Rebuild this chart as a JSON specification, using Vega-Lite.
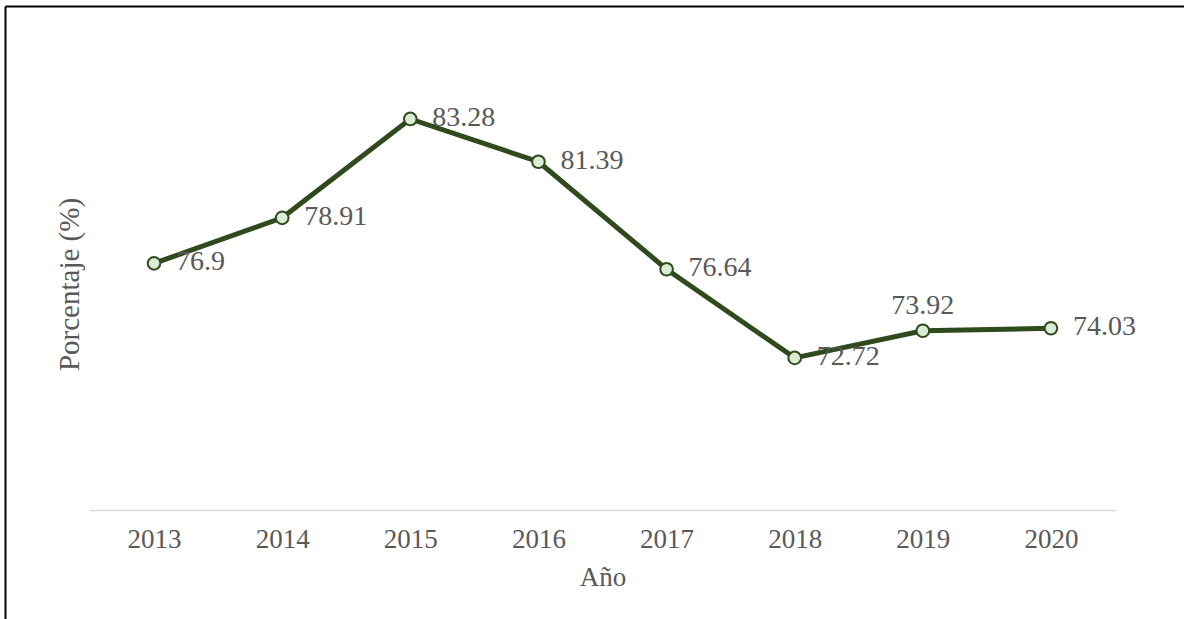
{
  "$schema": "https://vega.github.io/schema/vega-lite/v6.json",
  "autosize": {"type": "none"},
  "padding": {"left": 5, "top": 6, "right": 29, "bottom": 0},
  "width": 1150,
  "height": 613,
  "background": "white",
  "config": {
    "view": {"stroke": null},
    "font": "Liberation Serif"
  },
  "data": {
    "values": [
      {"anio": "2013", "pct": 76.9},
      {"anio": "2014", "pct": 78.91},
      {"anio": "2015", "pct": 83.28},
      {"anio": "2016", "pct": 81.39},
      {"anio": "2017", "pct": 76.64},
      {"anio": "2018", "pct": 72.72},
      {"anio": "2019", "pct": 73.92},
      {"anio": "2020", "pct": 74.03}
    ]
  },
  "resolve": {"scale": {"x": "independent"}, "axis": {"x": "independent"}},
  "layer": [
    {
      "encoding": {
        "x": {
          "field": "anio",
          "type": "ordinal",
          "scale": {"type": "point", "range": [85, 1110], "padding": 0.5},
          "axis": {
            "orient": "bottom",
            "title": "Año",
            "offset": -109,
            "labelAngle": 0,
            "labelFont": "Liberation Serif",
            "labelFontSize": 27,
            "labelColor": "#595959",
            "labelPadding": 16,
            "ticks": false,
            "domainColor": "#d9d9d9",
            "domainWidth": 1.5,
            "grid": false,
            "titleFont": "Liberation Serif",
            "titleFontSize": 27,
            "titleFontWeight": "normal",
            "titleColor": "#595959",
            "titlePadding": 12
          }
        },
        "y": {
          "field": "pct",
          "type": "quantitative",
          "scale": {"domain": [61.183, 88.271], "range": [613, 0], "zero": false, "nice": false},
          "axis": {
            "title": "Porcentaje (%)",
            "labels": false,
            "ticks": false,
            "domain": true,
            "domainColor": "#000000",
            "domainWidth": 2,
            "grid": false,
            "titleX": 79,
            "titleY": 278,
            "titleFont": "Liberation Serif",
            "titleFontSize": 29,
            "titleFontWeight": "normal",
            "titleColor": "#595959"
          }
        }
      },
      "layer": [
        {
          "mark": {"type": "line", "color": "#2f4a1c", "strokeWidth": 5}
        },
        {
          "mark": {"type": "point", "shape": "circle", "filled": true, "fill": "#dcebd3", "stroke": "#2f4a1c", "strokeWidth": 2, "size": 160, "opacity": 1}
        },
        {
          "transform": [{"filter": "datum.anio != '2019'"}],
          "mark": {"type": "text", "align": "left", "baseline": "middle", "dx": 22, "dy": -1, "fontSize": 28, "font": "Liberation Serif", "color": "#595959"},
          "encoding": {"text": {"field": "pct", "type": "quantitative"}}
        },
        {
          "transform": [{"filter": "datum.anio == '2019'"}],
          "mark": {"type": "text", "align": "center", "baseline": "alphabetic", "dy": -17, "fontSize": 28, "font": "Liberation Serif", "color": "#595959"},
          "encoding": {"text": {"field": "pct", "type": "quantitative"}}
        }
      ]
    },
    {
      "mark": {"type": "point", "opacity": 0},
      "encoding": {
        "x": {
          "field": "anio",
          "type": "ordinal",
          "scale": {"type": "point", "range": [0, 1179], "padding": 0},
          "axis": {
            "orient": "top",
            "title": null,
            "labels": false,
            "ticks": false,
            "grid": false,
            "domain": true,
            "domainColor": "#000000",
            "domainWidth": 2
          }
        }
      }
    }
  ]
}
